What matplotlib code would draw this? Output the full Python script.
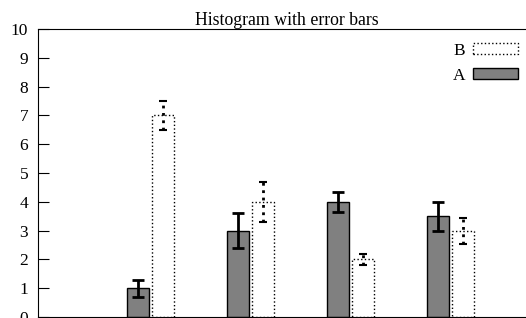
import numpy as np
import matplotlib.pyplot as plt
from matplotlib.patches import Patch

plt.rcParams["font.family"] = ["Liberation Serif", "DejaVu Serif"]

# datos
groups = [0, 1, 2, 3]
a_vals = [1, 3, 4, 3.5]
a_err = [0.3, 0.6, 0.35, 0.5]
b_vals = [7, 4, 2, 3]
b_err = [0.5, 0.7, 0.2, 0.45]

x = np.array(groups)
w = 0.225

fig = plt.figure(figsize=(5.26, 3.18), dpi=100)
ax = fig.add_axes([0.0722, 0.0031, 0.9468, 0.9057])

ax.bar(x - 0.125, a_vals, w, color="#808080", edgecolor="black", linewidth=1)
ax.bar(x + 0.125, b_vals, w, color="white", edgecolor="black", linewidth=1, linestyle=":")

eb = ax.errorbar(x - 0.125, a_vals, yerr=a_err, fmt="none", ecolor="black",
                 elinewidth=2, capsize=4.5, capthick=2)
eb2 = ax.errorbar(x + 0.125, b_vals, yerr=b_err, fmt="none", ecolor="black",
                  elinewidth=2, capsize=3, capthick=1.5)
eb2[2][0].set_linestyle(":")

ax.set_xlim(-1.125, 3.855)
ax.set_ylim(0, 10)
ax.set_yticks(range(0, 11))
ax.set_xticks([])
ax.tick_params(axis="y", direction="in", length=8, labelsize=12.5, pad=7)
ax.spines["right"].set_visible(False)
ax.set_title("Histogram with error bars", fontsize=12.8, pad=1)

handles = [Patch(facecolor="white", edgecolor="black", linestyle=":", label="B"),
           Patch(facecolor="#808080", edgecolor="black", label="A")]
ax.legend(handles=handles, loc="upper right", bbox_to_anchor=(0.964, 0.952),
          frameon=False, markerfirst=False, fontsize=12.5, borderpad=0, borderaxespad=0,
          handlelength=2.6, handleheight=0.6, labelspacing=0.5, handletextpad=0.45)

plt.savefig("out.png")
